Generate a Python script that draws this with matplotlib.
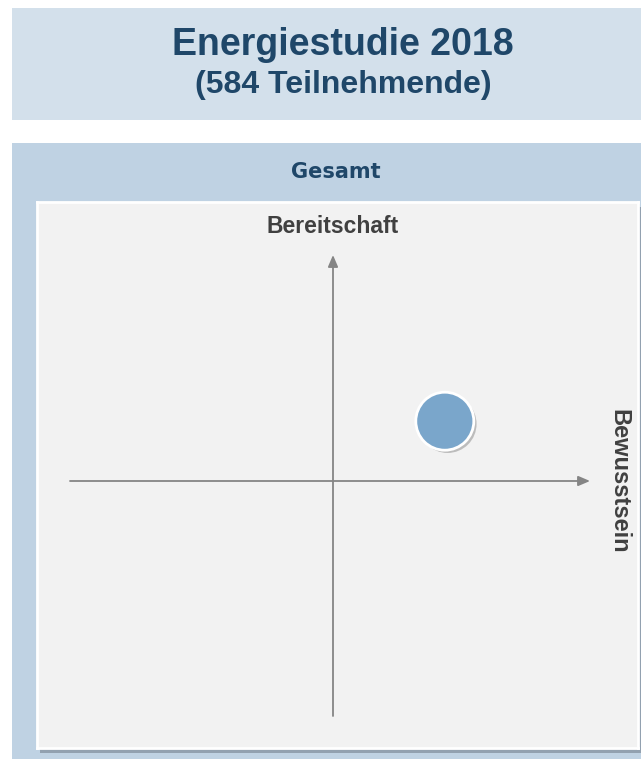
import matplotlib
import numpy as np
import matplotlib.pyplot as plt
import matplotlib.patheffects as pe
from matplotlib.patches import Rectangle

matplotlib.use('Agg')

# Data
title = 'Energiestudie 2018'
subtitle = '(584 Teilnehmende)'
group = 'Gesamt'
x_label = 'Bewusstsein'
y_label = 'Bereitschaft'
bewusstsein = [0.43]
bereitschaft = [0.23]

W, H = 641, 759


def fx(px):
    return px / W


def fy(py):
    return 1 - py / H


fig = plt.figure(figsize=(W / 100, H / 100), dpi=100)
fig.patch.set_facecolor('white')

# Header box and panel background
fig.patches.append(Rectangle((fx(12), fy(120)), fx(629), (120 - 8) / H,
                             transform=fig.transFigure, facecolor='#d3e0eb', edgecolor='none'))
fig.patches.append(Rectangle((fx(12), 0), fx(629), (759 - 143) / H,
                             transform=fig.transFigure, facecolor='#bfd2e3', edgecolor='none'))
# shadow of inner box
fig.patches.append(Rectangle((fx(40), fy(753)), fx(601), 546 / H,
                             transform=fig.transFigure, facecolor='#8d9cab', edgecolor='none', alpha=0.9))

fig.text(fx(343), fy(45), title, ha='center', va='center', fontsize=27, fontweight='bold',
         color='#1f4769', family='Liberation Sans')
fig.text(fx(343), fy(85), subtitle, ha='center', va='center', fontsize=23, fontweight='bold',
         color='#1f4769', family='Liberation Sans')
fig.text(fx(336), fy(172), group, ha='center', va='center', fontsize=15, fontweight='bold',
         color='#1f4769', family='DejaVu Sans')

# Inner plot area
ax = fig.add_axes([fx(37), fy(748), fx(601), 546 / H])
ax.set_zorder(3)
ax.set_facecolor('#f2f2f2')
for s in ax.spines.values():
    s.set_color('white')
    s.set_linewidth(2)
ax.set_xticks([])
ax.set_yticks([])

unit = 260.0
ax.set_xlim(-296 / unit, 305 / unit)
ax.set_ylim(-267 / unit, 279 / unit)

arrow = dict(arrowstyle='-|>,head_length=0.7,head_width=0.3', color='#858585', lw=1.3,
             shrinkA=0, shrinkB=0)
ax.annotate('', xy=(257 / unit, 0), xytext=(-263 / unit, 0), arrowprops=arrow)
ax.annotate('', xy=(0, 226 / unit), xytext=(0, -235 / unit), arrowprops=arrow)

ax.text(0, 1 - 24 / 546, y_label, transform=ax.get_xaxis_transform(), ha='center', va='center',
        fontsize=16.5, fontweight='bold', color='#404040', family='Liberation Sans')
ax.text(1 - 19 / 601, 0, x_label, transform=ax.get_yaxis_transform(), ha='center', va='center',
        rotation=-90, fontsize=17, fontweight='bold', color='#404040', family='Liberation Sans')

d = 58 * 0.72
ax.scatter(bewusstsein, bereitschaft, s=d ** 2, color='#7aa6cb', edgecolor='white', linewidth=2,
           zorder=5, path_effects=[pe.SimplePatchShadow(offset=(2, -2), shadow_rgbFace='#888888', alpha=0.5),
                                   pe.Normal()])

fig.savefig('out.png', dpi=100, facecolor=fig.get_facecolor())
